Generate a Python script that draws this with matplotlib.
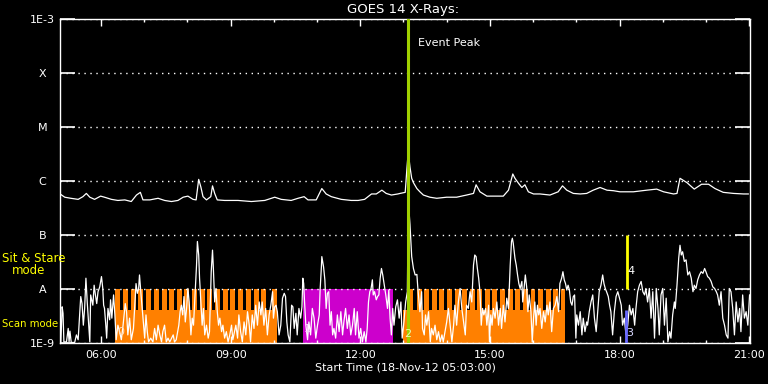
import matplotlib
matplotlib.use('Agg')
import matplotlib.pyplot as plt
from matplotlib.ticker import FixedLocator, NullLocator
import numpy as np

# GOES long channel (1-8 A), hours UT / log10(W m^-2)
long_t = [5.07, 5.16, 5.30, 5.47, 5.58, 5.66, 5.74, 5.85, 5.99, 6.08, 6.24, 6.39, 6.55, 6.70,
          6.82, 6.91, 6.97, 7.13, 7.32, 7.47, 7.63, 7.78, 7.90, 8.01, 8.13, 8.20, 8.26, 8.31,
          8.36, 8.44, 8.54, 8.58, 8.63, 8.69, 8.86, 9.17, 9.48, 9.79, 10.02, 10.17, 10.40, 10.56,
          10.70, 10.79, 10.98, 11.11, 11.21, 11.33, 11.56, 11.79, 11.95, 12.10, 12.26, 12.37,
          12.50, 12.60, 12.72, 12.87, 12.92, 13.04, 13.08, 13.11, 13.15, 13.19, 13.23, 13.31,
          13.38, 13.46, 13.61, 13.77, 14.00, 14.23, 14.46, 14.62, 14.68, 14.77, 14.93, 15.16,
          15.31, 15.43, 15.53, 15.58, 15.66, 15.74, 15.81, 15.89, 16.01, 16.16, 16.39, 16.58,
          16.68, 16.78, 16.93, 17.09, 17.24, 17.39, 17.55, 17.71, 17.86, 18.01, 18.32, 18.63,
          18.86, 19.02, 19.25, 19.33, 19.40, 19.56, 19.73, 19.90, 20.06, 20.21, 20.40, 20.64,
          20.87, 20.98]
long_log = [-6.25, -6.30, -6.32, -6.34, -6.29, -6.23, -6.30, -6.34, -6.28, -6.30, -6.34, -6.36,
            -6.35, -6.38, -6.26, -6.21, -6.35, -6.35, -6.32, -6.36, -6.38, -6.36, -6.30, -6.28,
            -6.34, -6.35, -5.97, -6.11, -6.29, -6.35, -6.29, -6.09, -6.23, -6.35, -6.36, -6.36,
            -6.38, -6.36, -6.30, -6.34, -6.36, -6.32, -6.29, -6.35, -6.35, -6.14, -6.24, -6.29,
            -6.34, -6.36, -6.36, -6.34, -6.24, -6.24, -6.17, -6.23, -6.26, -6.24, -6.23, -6.21,
            -5.76, -5.46, -5.74, -5.95, -6.03, -6.14, -6.20, -6.26, -6.30, -6.32, -6.30, -6.30,
            -6.26, -6.23, -6.07, -6.20, -6.28, -6.28, -6.28, -6.17, -5.87, -5.95, -6.04, -6.12,
            -6.07, -6.20, -6.24, -6.24, -6.26, -6.20, -6.09, -6.17, -6.23, -6.24, -6.23, -6.17,
            -6.12, -6.17, -6.18, -6.20, -6.20, -6.17, -6.15, -6.20, -6.24, -6.23, -5.95, -6.03,
            -6.15, -6.06, -6.06, -6.14, -6.21, -6.23, -6.24, -6.24]

# GOES short channel (0.5-4 A)
short_t = [5.07, 5.10, 5.12, 5.14, 5.20, 5.24, 5.26, 5.28, 5.31, 5.39, 5.43, 5.47, 5.51, 5.53,
           5.56, 5.59, 5.62, 5.65, 5.68, 5.71, 5.74, 5.76, 5.81, 5.84, 5.87, 5.90, 5.93, 5.97,
           6.01, 6.04, 6.06, 6.08, 6.11, 6.13, 6.16, 6.20, 6.22, 6.25, 6.29, 6.32, 6.35, 6.39,
           6.43, 6.47, 6.51, 6.56, 6.59, 6.62, 6.66, 6.70, 6.75, 6.78, 6.81, 6.84, 6.87, 6.89,
           6.92, 6.95, 6.98, 7.01, 7.04, 7.07, 7.10, 7.15, 7.20, 7.24, 7.28, 7.32, 7.36, 7.40,
           7.43, 7.47, 7.51, 7.55, 7.59, 7.67, 7.70, 7.74, 7.80, 7.83, 7.86, 7.89, 7.92, 7.95,
           7.98, 8.01, 8.04, 8.08, 8.11, 8.14, 8.17, 8.21, 8.23, 8.26, 8.28, 8.31, 8.34, 8.37,
           8.40, 8.44, 8.48, 8.51, 8.55, 8.58, 8.60, 8.63, 8.66, 8.69, 8.72, 8.75, 8.79, 8.82,
           8.86, 8.90, 8.94, 8.98, 9.02, 9.05,
           9.12, 9.16, 9.19, 9.23, 9.27, 9.31, 9.35, 9.39, 9.43, 9.46, 9.50, 9.54, 9.58, 9.62,
           9.66, 9.70, 9.73, 9.77, 9.81, 9.85, 9.89, 9.93, 9.97, 9.99, 10.02, 10.05, 10.08, 10.12,
           10.16, 10.20, 10.24, 10.27, 10.30, 10.33, 10.37, 10.41, 10.44, 10.47, 10.51, 10.54,
           10.58, 10.62, 10.65, 10.67, 10.69, 10.71, 10.74, 10.78, 10.81, 10.85, 10.89, 10.93,
           10.97, 11.01, 11.05, 11.07, 11.10, 11.11, 11.15, 11.18, 11.21, 11.24, 11.27, 11.30,
           11.33, 11.36, 11.39, 11.43, 11.47, 11.51, 11.55, 11.59, 11.62, 11.66, 11.70, 11.74,
           11.78, 11.82, 11.86, 11.89, 11.93, 11.97, 12.01, 12.05, 12.09, 12.13, 12.16, 12.19,
           12.22, 12.25, 12.28, 12.30, 12.33, 12.37, 12.40, 12.43, 12.46, 12.49, 12.52, 12.55,
           12.59, 12.63, 12.66, 12.69, 12.72, 12.75, 12.78, 12.82, 12.86, 12.90, 12.94, 12.97,
           13.01, 13.05, 13.09, 13.11, 13.15,
           13.19, 13.23, 13.27, 13.31, 13.33, 13.36, 13.38, 13.42, 13.44, 13.48, 13.51, 13.54,
           13.58, 13.62, 13.65, 13.69, 13.73, 13.77, 13.81, 13.85, 13.89, 13.92, 13.96, 14.00,
           14.04, 14.08, 14.12, 14.16, 14.19, 14.23, 14.27, 14.31, 14.35, 14.39, 14.43, 14.46,
           14.50, 14.54, 14.58, 14.62, 14.65, 14.68, 14.71, 14.74, 14.77, 14.80, 14.83, 14.86,
           14.90, 14.93, 14.97, 14.99, 15.02, 15.05, 15.08, 15.12, 15.16, 15.20, 15.24, 15.27,
           15.31, 15.35, 15.39, 15.43, 15.47, 15.50, 15.52, 15.54, 15.58, 15.61, 15.64, 15.67,
           15.70, 15.74, 15.76, 15.79, 15.82, 15.85, 15.88, 15.91, 15.95, 15.98, 16.01, 16.04,
           16.07, 16.10, 16.13, 16.16, 16.20, 16.24, 16.28, 16.32, 16.35, 16.39, 16.43, 16.47,
           16.51, 16.55, 16.59, 16.62, 16.66, 16.69, 16.72, 16.75, 16.78, 16.81, 16.84, 16.87,
           16.90, 16.93, 16.96, 16.99, 17.01, 17.05, 17.09, 17.13, 17.16, 17.20, 17.24,
           17.26, 17.30, 17.34, 17.38, 17.42, 17.46, 17.50, 17.53, 17.57, 17.61, 17.64, 17.67,
           17.70, 17.74, 17.77, 17.80, 17.84, 17.88, 17.92, 17.96, 18.00, 18.04, 18.07, 18.11,
           18.15, 18.19, 18.23, 18.27, 18.31, 18.35, 18.38, 18.42, 18.46, 18.50, 18.54, 18.58,
           18.61, 18.65, 18.69, 18.73, 18.77, 18.81, 18.85, 18.89, 18.92, 18.96, 19.00, 19.04,
           19.08, 19.12, 19.16, 19.19, 19.23, 19.27, 19.29, 19.33, 19.35, 19.37, 19.40, 19.43,
           19.46, 19.50, 19.54, 19.58, 19.62, 19.66, 19.70, 19.73, 19.77, 19.81, 19.85, 19.89,
           19.93, 19.97, 20.00, 20.04, 20.08, 20.12, 20.16, 20.20, 20.24, 20.27, 20.31, 20.35,
           20.39, 20.43, 20.47, 20.51, 20.54, 20.58, 20.62, 20.66, 20.70, 20.74, 20.78, 20.81,
           20.85, 20.89, 20.93, 20.97, 21.01]
short_log = [-8.98, -8.33, -8.45, -8.98, -8.98, -8.73, -8.98, -8.78, -8.99, -8.99, -8.85, -8.94,
             -8.39, -8.14, -8.27, -8.67, -8.36, -7.80, -8.24, -8.61, -8.98, -8.11, -8.30, -7.93,
             -8.11, -8.27, -8.05, -7.96, -7.77, -7.99, -8.30, -8.36, -8.67, -8.91, -8.36, -8.57,
             -8.20, -8.54, -8.11, -8.48, -8.94, -8.67, -8.79, -8.94, -8.67, -8.27, -8.42, -8.85,
             -8.54, -8.94, -8.73, -8.30, -7.90, -8.08, -7.99, -7.74, -8.05, -8.33, -8.61, -8.91,
             -8.48, -8.79, -8.98, -8.91, -8.98, -8.73, -8.94, -8.67, -8.85, -8.98, -8.79, -8.67,
             -8.98, -8.91, -8.98, -8.85, -8.98, -8.94, -8.67, -8.42, -8.30, -8.48, -8.14, -8.61,
             -8.36, -7.99, -8.24, -8.85, -8.54, -8.67, -8.20, -7.56, -7.12, -7.37, -7.80, -8.24,
             -8.67, -8.36, -8.85, -8.67, -8.91, -8.79, -7.68, -7.28, -7.62, -8.24, -7.99, -8.42,
             -8.67, -8.54, -8.79, -8.67, -8.91, -8.79, -8.98, -8.85, -8.67, -8.94,
             -8.67, -8.91, -8.48, -8.79, -8.98, -8.61, -8.85, -8.42, -8.67, -8.98, -8.48, -8.73,
             -8.30, -8.67, -8.24, -8.48, -8.24, -8.67, -8.36, -8.85, -8.48, -8.30, -8.05, -8.54,
             -8.33, -8.30, -8.42, -8.85, -8.67, -8.17, -8.08, -8.14, -8.61, -8.85, -8.98, -8.30,
             -8.33, -8.73, -8.45, -8.85, -8.36, -8.54, -8.33, -7.80, -7.90, -8.24, -8.67, -8.94,
             -8.61, -8.85, -8.36, -8.54, -8.91, -8.67, -8.48, -8.02, -7.59, -7.40, -7.59, -7.83,
             -8.36, -8.08, -8.05, -8.67, -8.42, -8.85, -8.73, -8.91, -8.48, -8.79, -8.42, -8.85,
             -8.61, -8.36, -8.73, -8.48, -8.85, -8.67, -8.36, -8.85, -8.42, -8.91, -8.73, -8.98,
             -8.79, -8.98, -8.73, -8.24, -8.05, -7.99, -7.83, -8.11, -8.05, -8.20, -8.14, -8.11,
             -7.80, -7.62, -7.74, -7.90, -8.11, -8.36, -8.02, -8.54, -8.85, -8.36, -8.67, -8.33,
             -8.20, -8.54, -8.24, -8.91, -8.61, -8.24, -8.05, -6.35, -6.80,
             -7.40, -7.62, -7.74, -7.73, -7.96, -8.24, -8.42, -8.05, -8.73, -8.85, -8.48, -8.67,
             -8.42, -8.98, -8.73, -8.85, -8.67, -8.94, -8.79, -8.98, -8.85, -8.98, -8.79, -8.61,
             -8.36, -8.67, -8.98, -8.67, -8.30, -8.67, -8.24, -7.99, -8.36, -8.61, -8.85, -8.30,
             -8.36, -8.05, -8.24, -7.56, -7.37, -7.40, -7.62, -7.80, -8.05, -8.67, -8.36, -8.48,
             -8.36, -8.67, -8.30, -8.98, -8.48, -8.67, -8.36, -8.54, -8.24, -8.67, -8.36, -8.73,
             -8.30, -8.61, -8.17, -8.36, -7.56, -7.12, -7.06, -7.15, -7.43, -7.56, -7.74, -7.90,
             -7.99, -7.86, -8.24, -7.99, -7.74, -7.96, -8.42, -8.11, -8.42, -8.98, -8.54, -8.24,
             -8.67, -8.30, -8.48, -8.36, -8.73, -8.42, -8.61, -8.30, -8.48, -8.24, -8.79, -8.36,
             -8.30, -8.14, -8.42, -7.90, -7.80, -7.68, -7.83, -7.90, -8.02, -7.93, -8.02, -8.24,
             -8.30, -8.14, -8.11, -8.91, -8.48, -8.67, -8.42, -8.85, -8.54, -8.79, -8.61,
             -8.67, -8.42, -8.24, -8.11, -8.54, -8.79, -8.36, -8.05, -7.93, -7.74, -7.90, -7.99,
             -8.05, -8.14, -8.30, -8.42, -8.85, -8.42, -8.14, -8.05, -8.17, -8.30, -8.67, -8.54,
             -8.85, -8.67, -8.30, -8.48, -8.36, -8.67, -8.36, -8.05, -7.93, -7.86, -8.05, -8.11,
             -7.99, -8.24, -7.99, -8.54, -8.05, -8.91, -7.99, -8.36, -8.85, -8.11, -7.99, -8.67,
             -8.17, -8.98, -8.79, -8.91, -8.48, -8.24, -8.36, -7.93, -7.68, -7.43, -7.19, -7.37,
             -7.31, -7.49, -7.46, -7.74, -7.68, -7.80, -8.05, -7.93, -7.99, -7.83, -7.74, -7.68,
             -7.71, -7.62, -7.68, -7.77, -7.80, -7.86, -7.96, -7.99, -8.05, -8.11, -8.30, -8.05,
             -8.54, -8.67, -8.85, -8.91, -7.99, -8.05, -8.36, -8.85, -8.24, -8.61, -8.36, -8.79,
             -8.11, -8.54, -8.42, -8.67, -8.11]

# observing modes (IRIS-style timeline)
scan_spans = [(6.33, 10.08), (13.00, 16.74)]
scan1_raster = [6.33, 6.51, 6.69, 6.86, 7.04, 7.22, 7.40, 7.57, 7.75, 7.93, 8.11, 8.28, 8.46,
                8.64, 8.82, 8.99, 9.17, 9.35, 9.53, 9.70, 9.95]
scan2_raster = [13.10, 13.31, 13.48, 13.66, 13.83, 14.01, 14.19, 14.36, 14.54, 14.71, 14.89,
                15.06, 15.24, 15.41, 15.59, 15.77, 15.94, 16.12, 16.29, 16.47, 16.64]
raster_len = 0.115
scan_floor = 10 ** -8.39
stare_span = (10.67, 12.75)

event_peak = 13.10
marker3 = 18.14
marker4 = 18.17

tick_hours = [6, 9, 12, 15, 18, 21]
tick_labels = ['06:00', '09:00', '12:00', '15:00', '18:00', '21:00']
flux_ticks = [1e-9, 1e-8, 1e-7, 1e-6, 1e-5, 1e-4, 1e-3]
flux_labels = ['1E-9', 'A', 'B', 'C', 'M', 'X', '1E-3']

plt.rcParams['font.family'] = 'DejaVu Sans'
plt.rcParams['font.size'] = 8

fig = plt.figure(figsize=(7.68, 3.84), dpi=100, facecolor='black')
ax = fig.add_axes([60 / 768, 41 / 384, 690 / 768, 324 / 384])
ax.set_facecolor('black')
ax.set_yscale('log')
ax.set_ylim(1e-9, 1e-3)
ax.set_xlim(5.05, 21.02)

orange = '#ff8000'
# scan mode blocks: solid low band + raster comb
for s, e in scan_spans:
    ax.broken_barh([(s, e - s)], (1e-9, scan_floor - 1e-9), facecolor=orange, lw=0, zorder=1)
for starts, (s, e) in zip([scan1_raster, scan2_raster], scan_spans):
    rng = [(r, min(raster_len, e - r)) for r in starts]
    ax.broken_barh(rng, (1e-9, 1e-8 - 1e-9), facecolor=orange, lw=0, zorder=1)
ax.broken_barh([(stare_span[0], stare_span[1] - stare_span[0])], (1e-9, 1e-8 - 1e-9),
               facecolor='#cc00cc', lw=0, zorder=1)

ax.plot(short_t, 10 ** np.array(short_log), color='white', lw=0.9, zorder=3)
ax.plot(long_t, 10 ** np.array(long_log), color='white', lw=0.9, zorder=3)

ax.axvline(event_peak, color='#a0d000', lw=2.2, zorder=4)
ax.vlines(marker3, 1e-9, scan_floor, color='#6a6aff', lw=2, zorder=4)
ax.vlines(marker4, 1e-8, 1e-7, color='#ffff00', lw=2, zorder=4)

ax.text(event_peak + 0.24, 10 ** -3.44, 'Event Peak', color='white', va='center', ha='left')
ax.text(6.37, 10 ** -8.8, '0', color='#ffe0c0', va='center', ha='left', zorder=5)
ax.text(10.69, 10 ** -8.75, '1', color='#ffd0ff', va='center', ha='left', zorder=5)
ax.text(event_peak, 10 ** -8.83, '2', color='#e8ffb0', va='center', ha='center', zorder=5)
ax.text(marker3 + 0.01, 10 ** -8.81, '3', color='#d8d8ff', va='center', ha='left', zorder=5)
ax.text(marker4 + 0.02, 10 ** -7.67, '4', color='white', va='center', ha='left', zorder=5)

# axes styling
for sp in ax.spines.values():
    sp.set_color('white')
    sp.set_linewidth(1)
ax.xaxis.set_major_locator(FixedLocator(tick_hours))
ax.xaxis.set_minor_locator(FixedLocator(list(range(6, 22))))
ax.set_xticklabels(tick_labels)
ax.yaxis.set_major_locator(FixedLocator(flux_ticks))
ax.yaxis.set_minor_locator(NullLocator())
ax.set_yticklabels(flux_labels)
ax.tick_params(axis='x', which='major', direction='in', top=True, bottom=True,
               length=5, width=1, color='white', labelcolor='white', pad=5)
ax.tick_params(axis='x', which='minor', direction='in', top=True, bottom=True,
               length=2.5, width=1, color='white')
ax.tick_params(axis='y', which='major', direction='in', left=True, right=True,
               length=10.5, width=1.2, color='white', labelcolor='white', pad=12.5)
for lab in ax.get_yticklabels():
    lab.set_horizontalalignment('center')
ax.grid(axis='y', which='major', color='white', linestyle=(0, (1, 3.3)), lw=1)

fig.text(403 / 768, 1 - 10 / 384, 'GOES 14 X-Rays:', color='white', ha='center', va='center',
         fontsize=9.5)
fig.text(405 / 768, 1 - 368 / 384, 'Start Time (18-Nov-12 05:03:00)', color='white',
         ha='center', va='center')
fig.text(2 / 768, 1 - 259 / 384, 'Sit & Stare', color='#ffff00', ha='left', va='center',
         fontsize=8.5)
fig.text(12 / 768, 1 - 271 / 384, 'mode', color='#ffff00', ha='left', va='center', fontsize=8.5)
fig.text(2 / 768, 1 - 324 / 384, 'Scan mode', color='#ffff00', ha='left', va='center',
         fontsize=7.3)

fig.savefig('out.png', dpi=100, facecolor='black')
